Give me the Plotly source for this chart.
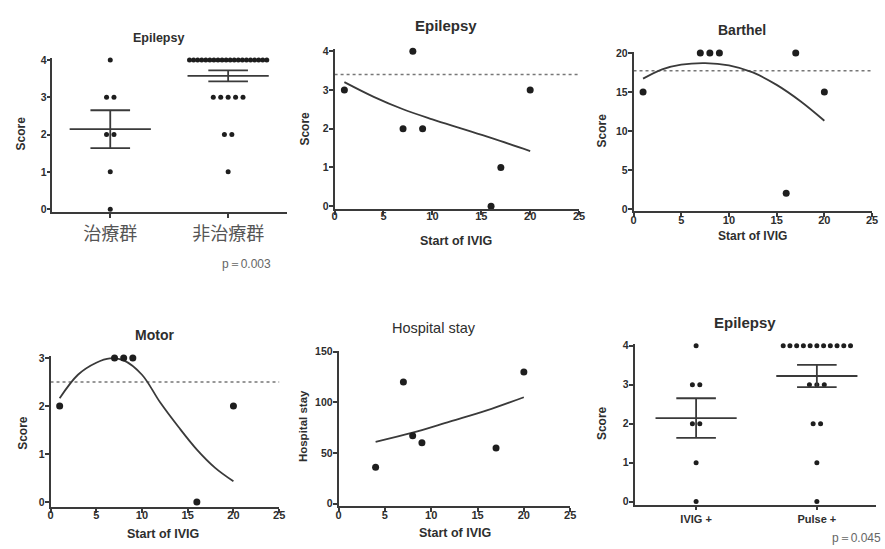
import numpy as np
import plotly.graph_objects as go
from collections import Counter, defaultdict

W, H = 885, 549

# ---------------- data ----------------
# Panel 1: Epilepsy score, treated vs untreated
grp1_labels = ["治療群", "非治療群"]
treated_scores = [4, 3, 3, 2, 2, 1, 0]
untreated_scores = [4, 4, 4, 4, 4, 4, 4, 4, 4, 4, 4, 4, 4, 4, 4, 4, 4, 4, 4, 4,
                    3, 3, 3, 3, 3, 2, 2, 1]
p_value_1 = "p＝0.003"

# Panel 6: Epilepsy score, IVIG+ vs Pulse+
grp6_labels = ["IVIG +", "Pulse +"]
ivig_scores = [4, 3, 3, 2, 2, 1, 0]
pulse_scores = [4, 4, 4, 4, 4, 4, 4, 4, 4, 4, 4, 3, 3, 3, 2, 2, 1, 0]
p_value_6 = "p＝0.045"

# Panel 2: Epilepsy vs start of IVIG
ep_start = [1, 7, 8, 9, 16, 17, 20]
ep_score = [3, 2, 4, 2, 0, 1, 3]
ep_ref = 3.4
ep_fit_x = [1, 4, 7, 10, 13, 16, 20]
ep_fit_y = [3.2, 2.82, 2.5, 2.24, 2.0, 1.76, 1.42]

# Panel 3: Barthel vs start of IVIG
ba_start = [1, 7, 8, 9, 16, 17, 20]
ba_score = [15, 20, 20, 20, 2, 20, 15]
ba_ref = 17.7
ba_fit_x = [1, 3, 5, 7.5, 10, 12.5, 15, 17.5, 20]
ba_fit_y = [16.7, 17.9, 18.5, 18.7, 18.4, 17.5, 15.9, 13.8, 11.3]

# Panel 4: Motor vs start of IVIG
mo_start = [1, 7, 8, 9, 16, 20]
mo_score = [2, 3, 3, 3, 0, 2]
mo_ref = 2.5
mo_fit_x = [1, 3, 5, 6.5, 8, 10, 12, 14, 16, 18, 20]
mo_fit_y = [2.16, 2.65, 2.9, 2.99, 2.95, 2.65, 2.07, 1.56, 1.09, 0.71, 0.43]

# Panel 5: Hospital stay vs start of IVIG
hs_start = [4, 7, 8, 9, 17, 20]
hs_days = [36, 120, 67, 60, 55, 130]
hs_fit_x = [4, 8, 12, 16, 20]
hs_fit_y = [61, 70, 81, 92, 105]

# ---------------- styling ----------------
INK = "#2e2e2e"
LINE = "#3a3a3a"
FONT = "Liberation Sans"

fig = go.Figure()

panels = {
    1: dict(px=(50, 287, 53, 210), xr=[0.51, 2.5], yr=[-0.08, 4.05], yt=[0, 1, 2, 3, 4], xs=0),
    2: dict(px=(335, 582, 44, 207), xr=[0, 25], yr=[-0.08, 4.05], yt=[0, 1, 2, 3, 4], xs=-8),
    3: dict(px=(637, 878, 47, 209), xr=[0, 25], yr=[-0.3, 20.1], yt=[0, 5, 10, 15, 20], xs=-6),
    4: dict(px=(48, 279, 357, 510), xr=[0, 25], yr=[-0.1, 3.03], yt=[0, 1, 2, 3], xs=-7),
    5: dict(px=(339, 573, 351, 509), xr=[0, 25], yr=[-2, 151], yt=[0, 50, 100, 150], xs=-6),
    6: dict(px=(638, 882, 344, 508), xr=[0.49, 2.49], yr=[-0.08, 4.05], yt=[0, 1, 2, 3, 4], xs=0),
}

def ax(n, kind):
    return kind if n == 1 else f"{kind}{n}"

for n, p in panels.items():
    x0, x1, yt_, yb = p["px"]
    common = dict(showline=True, linecolor=LINE, linewidth=1.6, ticks="outside",
                  ticklen=4, tickwidth=1.5, tickcolor=LINE, showgrid=False,
                  zeroline=False, fixedrange=True)
    xa = dict(common, domain=[x0 / W, x1 / W], range=p["xr"], anchor=ax(n, "y"),
              ticklabelstandoff=p["xs"],
              tickfont=dict(family=FONT, size=11, color=INK, weight="bold"))
    if n in (1, 6):
        labels = grp1_labels if n == 1 else grp6_labels
        xa.update(tickvals=[1, 2], ticktext=labels)
        if n == 1:
            xa["tickfont"] = dict(family="Noto Sans CJK JP", size=18, color="#555555")
        else:
            xa["tickfont"] = dict(family=FONT, size=11, color=INK, weight="bold")
            xa["ticklen"] = 3
    else:
        xa.update(tickvals=[0, 5, 10, 15, 20, 25])
    ya = dict(common, domain=[1 - yb / H, 1 - yt_ / H], range=p["yr"], anchor=ax(n, "x"),
              tickvals=p["yt"], ticklabelstandoff=-2,
              tickfont=dict(family=FONT, size=10.5, color=INK, weight="bold"))
    fig.update_layout(**{ax(n, "xaxis"): xa, ax(n, "yaxis"): ya})


def swarm(values, center, step_px, max_px, ppu):
    counts = Counter(values)
    idx = defaultdict(int)
    xs = []
    for v in values:
        c = counts[v]
        step = min(step_px, max_px / (c - 1)) if c > 1 else 0
        i = idx[v]
        idx[v] += 1
        xs.append(center + (i - (c - 1) / 2) * step / ppu)
    return xs


def mean_sem(values, center, half_mean, half_cap, ppu):
    v = np.array(values, dtype=float)
    m = v.mean()
    s = v.std(ddof=1) / np.sqrt(len(v))
    hm, hc = half_mean / ppu, half_cap / ppu
    xs = [center - hm, center + hm, None, center - hc, center + hc, None,
          center - hc, center + hc, None, center, center]
    ys = [m, m, None, m + s, m + s, None, m - s, m - s, None, m - s, m + s]
    return xs, ys


def column_panel(n, groups, ppu, max_px):
    for k, vals in enumerate(groups):
        c = k + 1
        fig.add_trace(go.Scatter(
            x=swarm(vals, c, 7.5, max_px, ppu), y=vals, mode="markers",
            marker=dict(color="#1e1e1e", size=5), xaxis=ax(n, "x"), yaxis=ax(n, "y"),
            showlegend=False, hoverinfo="skip", cliponaxis=False))
        xs, ys = mean_sem(vals, c, 41, 20, ppu)
        fig.add_trace(go.Scatter(
            x=xs, y=ys, mode="lines", line=dict(color=LINE, width=1.8),
            xaxis=ax(n, "x"), yaxis=ax(n, "y"), showlegend=False, hoverinfo="skip"))


column_panel(1, [treated_scores, untreated_scores], 119, 78)
column_panel(6, [ivig_scores, pulse_scores], 122, 68)


def scatter_panel(n, xs, ys, fx, fy, ref=None):
    if ref is not None:
        fig.add_trace(go.Scatter(
            x=[0, 25.3], y=[ref, ref], mode="lines",
            line=dict(color="#777777", width=1.5, dash="dot"),
            xaxis=ax(n, "x"), yaxis=ax(n, "y"), showlegend=False, hoverinfo="skip",
            cliponaxis=False))
    fig.add_trace(go.Scatter(
        x=fx, y=fy, mode="lines", line=dict(color=LINE, width=1.8, shape="spline"),
        xaxis=ax(n, "x"), yaxis=ax(n, "y"), showlegend=False, hoverinfo="skip"))
    fig.add_trace(go.Scatter(
        x=xs, y=ys, mode="markers", marker=dict(color="#1e1e1e", size=7),
        xaxis=ax(n, "x"), yaxis=ax(n, "y"), showlegend=False, hoverinfo="skip",
        cliponaxis=False))


scatter_panel(2, ep_start, ep_score, ep_fit_x, ep_fit_y, ep_ref)
scatter_panel(3, ba_start, ba_score, ba_fit_x, ba_fit_y, ba_ref)
scatter_panel(4, mo_start, mo_score, mo_fit_x, mo_fit_y, mo_ref)
scatter_panel(5, hs_start, hs_days, hs_fit_x, hs_fit_y)

# ---------------- text ----------------
annots = []

def text(s, x, y, size, bold=True, color=INK, angle=0, family=FONT):
    annots.append(dict(text=s, x=x / W, y=1 - y / H, xref="paper", yref="paper",
                       xanchor="center", yanchor="middle", showarrow=False,
                       textangle=angle,
                       font=dict(family=family, size=size, color=color,
                                 weight="bold" if bold else "normal")))

# titles
text("Epilepsy", 157, 33, 12.5)
text("Epilepsy", 448, 20, 15)
text("Barthel", 747, 24, 14)
text("Motor", 153, 335, 14)
text("Hospital stay", 435, 328, 14.5, bold=False)
text("Epilepsy", 750, 322, 15)

# y-axis titles
text("Score", 18, 130, 12, angle=-90)
text("Score", 305, 125, 12, angle=-90)
text("Score", 605, 127, 12, angle=-90)
text("Score", 20, 435, 12, angle=-90)
text("Hospital stay", 303, 428, 11.5, angle=-90)
text("Score", 605, 425, 12, angle=-90)

# x-axis titles
text("Start of IVIG", 458, 239, 12.5)
text("Start of IVIG", 757, 234, 12)
text("Start of IVIG", 162, 538, 12.5)
text("Start of IVIG", 457, 537, 12.5)

# p values
text(p_value_1, 246, 263, 12, bold=False, color="#666666")
text(p_value_6, 862, 542, 12, bold=False, color="#666666")

fig.update_layout(
    width=W, height=H, autosize=False,
    margin=dict(l=0, r=0, t=0, b=0),
    paper_bgcolor="white", plot_bgcolor="white",
    annotations=annots, showlegend=False,
)

fig.write_html("out.html", config={"displayModeBar": False},
               post_script="document.body.style.margin='0';document.body.style.overflow='hidden';")
